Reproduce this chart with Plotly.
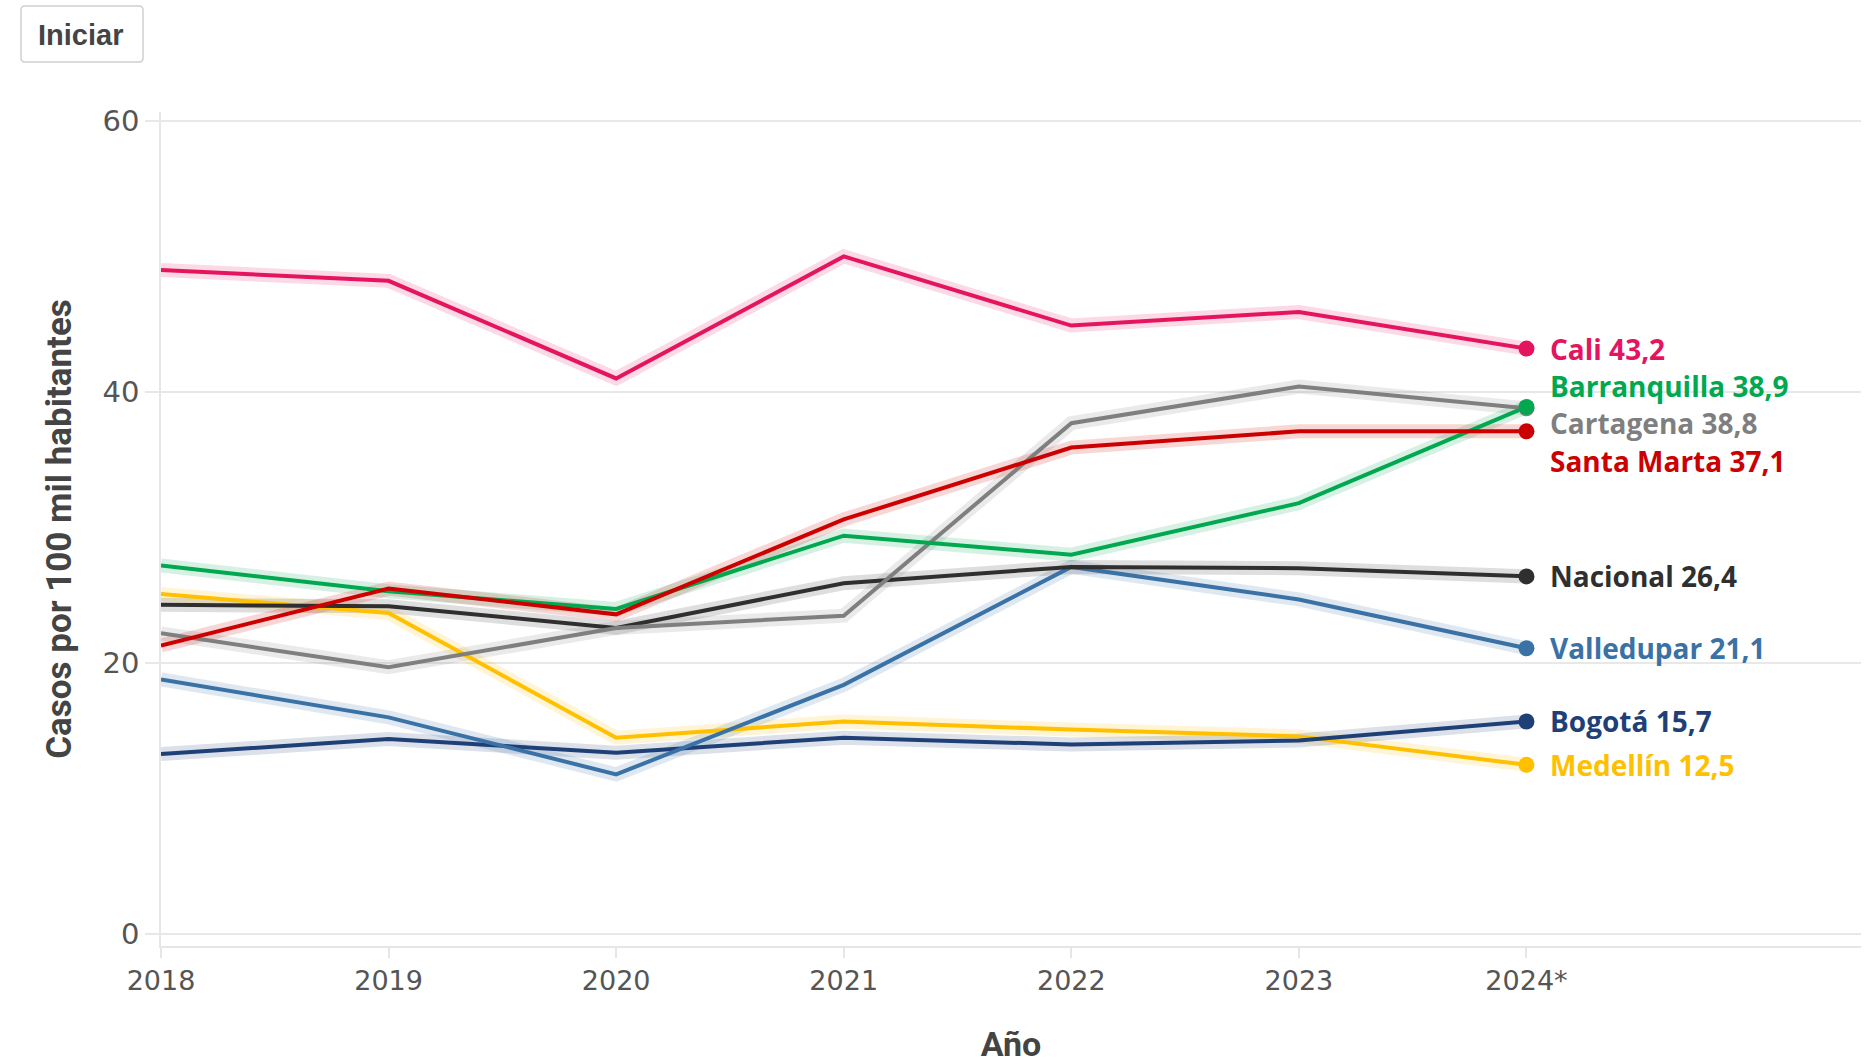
import plotly.graph_objects as go

# ---------------- data ----------------
years = ["2018", "2019", "2020", "2021", "2022", "2023", "2024*"]

cali = [49.0, 48.2, 41.0, 50.0, 44.9, 45.9, 43.2]
barranquilla = [27.2, 25.3, 24.0, 29.4, 28.0, 31.8, 38.9]
cartagena = [22.2, 19.7, 22.6, 23.5, 37.7, 40.4, 38.8]
santa_marta = [21.3, 25.5, 23.6, 30.6, 35.9, 37.1, 37.1]
nacional = [24.3, 24.2, 22.6, 25.9, 27.1, 27.0, 26.4]
valledupar = [18.8, 16.0, 11.8, 18.4, 27.1, 24.7, 21.1]
bogota = [13.3, 14.4, 13.4, 14.5, 14.0, 14.3, 15.7]
medellin = [25.1, 23.7, 14.5, 15.7, 15.1, 14.6, 12.5]

y_ticks = [0, 20, 40, 60]

# ---------------- styles ----------------
series = [
    ("Medellín", medellin, "#FFC000", 0),
    ("Bogotá", bogota, "#1F3F77", 0),
    ("Valledupar", valledupar, "#3A72A6", 0),
    ("Nacional", nacional, "#2F2F2F", 0),
    ("Cartagena", cartagena, "#7F7F7F", -15),
    ("Barranquilla", barranquilla, "#00A84F", 21),
    ("Santa Marta", santa_marta, "#CC0000", -30),
    ("Cali", cali, "#E5145F", 0),
]


def rgba(hex_color, a):
    h = hex_color.lstrip("#")
    r, g, b = int(h[0:2], 16), int(h[2:4], 16), int(h[4:6], 16)
    return f"rgba({r},{g},{b},{a})"


fig = go.Figure()

# halos
for name, vals, color, _ in series:
    fig.add_trace(go.Scatter(
        x=years, y=vals, mode="lines",
        line=dict(color=rgba(color, 0.16), width=14),
        hoverinfo="skip", showlegend=False,
    ))

# main lines
for name, vals, color, _ in series:
    fig.add_trace(go.Scatter(
        x=years, y=vals, mode="lines", name=name,
        line=dict(color=color, width=4),
        showlegend=False,
    ))

# end markers
for name, vals, color, _ in series:
    fig.add_trace(go.Scatter(
        x=years[-1:], y=vals[-1:], mode="markers",
        marker=dict(color=color, size=16),
        hoverinfo="skip", showlegend=False,
    ))

label_font = "Open Sans, Noto Sans, Roboto, sans-serif"
annotations = []
for name, vals, color, yshift in series:
    txt = f"{name} {vals[-1]:.1f}".replace(".", ",")
    annotations.append(dict(
        x=years[-1], y=vals[-1], xref="x", yref="y",
        text=txt, showarrow=False, xanchor="left", yanchor="middle",
        xshift=22, yshift=yshift,
        font=dict(family=label_font, size=28, color=color, weight=700),
    ))

# "Iniciar" button (box + label)
annotations.append(dict(
    x=-0.0471, y=1.0923, xref="paper", yref="paper",
    text="<b>Iniciar</b>", showarrow=False, xanchor="center", yanchor="middle",
    font=dict(family="Liberation Sans, Arial, sans-serif", size=29, color="#444444"),
))

button_box = dict(
    type="path", xref="paper", yref="paper",
    xsizemode="pixel", ysizemode="pixel", xanchor=0, yanchor=1,
    path="M -136,106 L -22,106 Q -18,106 -18,102 L -18,54 Q -18,50 -22,50 "
         "L -136,50 Q -140,50 -140,54 L -140,102 Q -140,106 -136,106 Z",
    line=dict(color="#cfcfcf", width=1.5), fillcolor="white", layer="above",
)

fig.update_layout(
    width=1871, height=1064,
    margin=dict(l=161, r=10, t=112, b=118, autoexpand=False),
    paper_bgcolor="white", plot_bgcolor="white",
    annotations=annotations,
    shapes=[button_box],
)

fig.update_xaxes(
    type="category", range=[0, 7.47], automargin=False,
    showgrid=False, zeroline=False,
    showline=True, linecolor="#e6e6e6", linewidth=2,
    ticks="outside", ticklen=10, tickcolor="#e6e6e6", tickwidth=1.5,
    tickfont=dict(family="DejaVu Sans, Verdana, sans-serif",
                  size=27, color="#555555"),
    title=dict(text="<b>Año</b>", standoff=42,
               font=dict(family="Roboto, sans-serif", size=34, color="#444444")),
)

fig.update_yaxes(
    range=[-0.86, 60.65], tickvals=y_ticks, automargin=False,
    showgrid=True, gridcolor="#e8e8e8", gridwidth=1.5,
    zeroline=False,
    showline=True, linecolor="#e6e6e6", linewidth=1.5,
    ticks="outside", ticklen=14, tickcolor="#e8e8e8", tickwidth=1.5,
    tickfont=dict(family="DejaVu Sans, Verdana, sans-serif", size=29, color="#555555"),
    title=dict(text="<b>Casos por 100 mil habitantes</b>", standoff=20,
               font=dict(family="Roboto, sans-serif", size=35, color="#444444")),
)

fig.write_html(
    "out.html",
    config={"displayModeBar": False},
    post_script="document.body.style.margin='0';document.body.style.overflow='hidden';",
)
